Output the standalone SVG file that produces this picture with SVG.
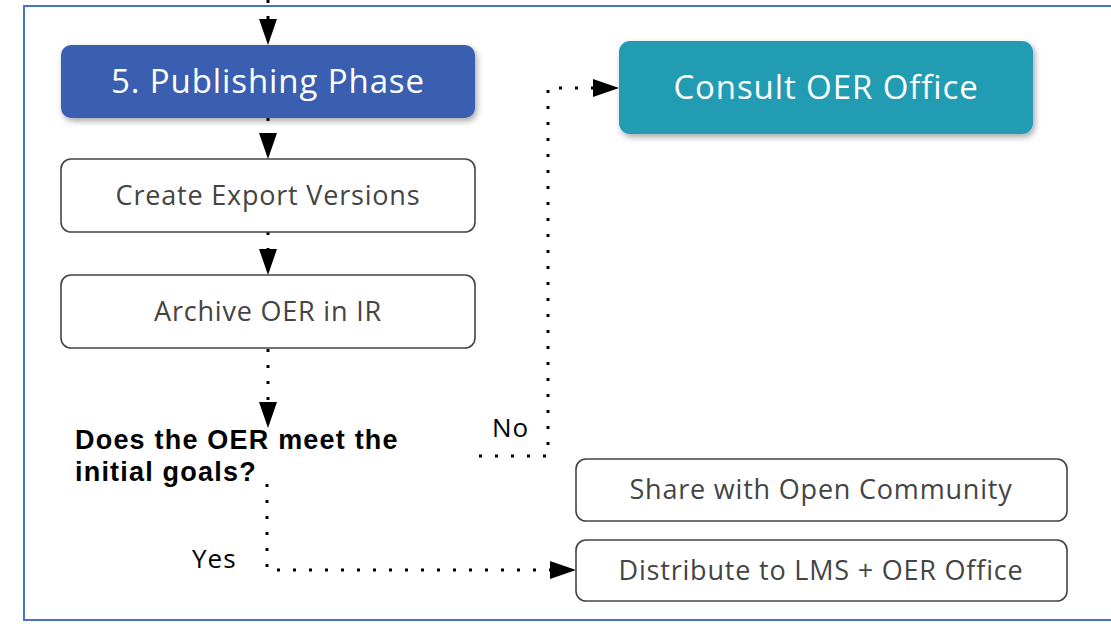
<svg xmlns="http://www.w3.org/2000/svg" width="1111" height="624" viewBox="0 0 1111 624">
<style>
.frame{fill:none;stroke:#4472C4;stroke-width:2}
.box{fill:#fff;stroke:#444;stroke-width:1.6}
.lbl{font-family:"Open Sans","Liberation Sans",sans-serif;fill:#444;font-size:27px;letter-spacing:0.8px;text-anchor:middle}
.big{font-family:"Open Sans","Liberation Sans",sans-serif;fill:#fff;font-size:33px;letter-spacing:0.9px;text-anchor:middle}
.dec{font-family:"Liberation Sans",Arial,sans-serif;fill:#000;font-size:27px;letter-spacing:1.2px;font-weight:bold}
.small{font-family:"Open Sans","Liberation Sans",sans-serif;fill:#000;font-size:26px;letter-spacing:1px}
.conn{fill:none;stroke:#000;stroke-width:3;stroke-dasharray:3 13}
</style>
<defs>
<filter id="sh" x="-10%" y="-20%" width="125%" height="150%">
<feDropShadow dx="2" dy="3" stdDeviation="3" flood-color="#000" flood-opacity="0.35"/>
</filter>
<marker id="arr" markerUnits="userSpaceOnUse" markerWidth="26" markerHeight="18" viewBox="0 0 26 18" refX="26" refY="9" orient="auto">
<path d="M0,0 L26,9 L0,18 Z" fill="#000"/>
</marker>
</defs>
<rect class="frame" x="24" y="6" width="1100" height="614"/>
<g id="connectors">
<path class="conn" d="M268,0 V45" marker-end="url(#arr)"/>
<path class="conn" d="M268,118 V159" marker-end="url(#arr)"/>
<path class="conn" d="M268,232 V275" marker-end="url(#arr)"/>
<path class="conn" d="M268,349 V428" marker-end="url(#arr)"/>
<path class="conn" d="M479,456 H548 V88 H619" marker-end="url(#arr)"/>
<path class="conn" d="M267,484 V570 H576" marker-end="url(#arr)"/>
<text class="small" x="492" y="437">No</text>
<text class="small" x="192" y="568">Yes</text>
</g>
<g id="publishing">
<rect x="61" y="45" width="414" height="73" rx="10" fill="#3B5FB0" filter="url(#sh)"/>
<text class="big" x="268" y="93">5. Publishing Phase</text>
</g>
<g id="consult">
<rect x="619" y="41" width="414" height="93" rx="11" fill="#229CB3" filter="url(#sh)"/>
<text class="big" x="826" y="99">Consult OER Office</text>
</g>
<g id="export">
<rect class="box" x="61" y="159" width="414" height="73" rx="10"/>
<text class="lbl" x="268" y="205">Create Export Versions</text>
</g>
<g id="archive">
<rect class="box" x="61" y="275" width="414" height="73" rx="10"/>
<text class="lbl" x="268" y="321">Archive OER in IR</text>
</g>
<g id="decision">
<text class="dec" x="75" y="449">Does the OER meet the</text>
<text class="dec" x="75" y="481">initial goals?</text>
</g>
<g id="share">
<rect class="box" x="576" y="459" width="491" height="62" rx="10"/>
<text class="lbl" x="821" y="499">Share with Open Community</text>
</g>
<g id="distribute">
<rect class="box" x="576" y="540" width="491" height="61" rx="10"/>
<text class="lbl" x="821" y="580">Distribute to LMS + OER Office</text>
</g>
</svg>
